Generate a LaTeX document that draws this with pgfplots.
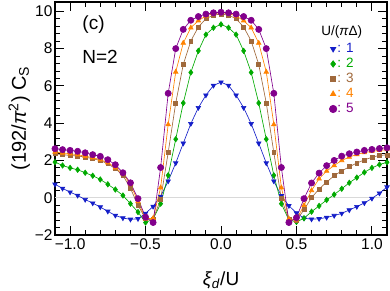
\documentclass[border=0pt]{standalone}
\usepackage{fontspec}
\setmainfont{Liberation Sans}
\usepackage{pgfplots}
\usepackage{pgfplotstable}
\pgfplotsset{compat=1.18}
\definecolor{cb}{RGB}{20,30,200}
\definecolor{cg}{RGB}{0,170,0}
\definecolor{cn}{RGB}{160,105,60}
\definecolor{co}{RGB}{255,130,0}
\definecolor{cp}{RGB}{130,0,140}
\pgfplotstableread{
x b g n o p
-1.10 0.72 1.91 2.36 2.45 2.63
-1.05 0.50 1.73 2.31 2.40 2.58
-1.00 0.30 1.60 2.27 2.36 2.54
-0.95 0.12 1.50 2.24 2.31 2.49
-0.90 -0.10 1.34 2.18 2.23 2.41
-0.85 -0.29 1.18 2.09 2.15 2.31
-0.80 -0.50 0.98 2.00 2.04 2.22
-0.75 -0.73 0.72 1.82 1.88 2.04
-0.70 -0.95 0.44 1.56 1.61 1.77
-0.65 -1.09 0.12 1.20 1.29 1.34
-0.60 -1.16 -0.32 0.50 0.72 0.80
-0.55 -1.13 -0.77 -0.40 -0.20 -0.05
-0.50 -0.84 -1.33 -1.13 -1.13 -1.04
-0.45 -0.47 -1.15 -1.16 -1.10 -1.33
-0.40 0.07 -0.32 -0.08 0.54 1.62
-0.35 0.89 1.20 2.42 3.93 5.60
-0.30 1.86 3.14 5.08 6.75 8.00
-0.25 2.92 5.08 7.15 8.30 9.03
-0.20 3.97 6.72 8.41 9.12 9.52
-0.15 4.83 7.88 9.16 9.50 9.72
-0.10 5.50 8.75 9.60 9.75 9.85
-0.05 6.02 9.12 9.80 9.88 9.92
0.00 6.20 9.30 9.85 9.92 9.95
0.05 6.02 9.12 9.80 9.88 9.92
0.10 5.50 8.75 9.60 9.75 9.85
0.15 4.83 7.88 9.16 9.50 9.72
0.20 3.97 6.72 8.41 9.12 9.52
0.25 2.92 5.08 7.15 8.30 9.03
0.30 1.86 3.14 5.08 6.75 8.00
0.35 0.89 1.20 2.42 3.93 5.60
0.40 0.10 -0.32 -0.05 0.54 1.62
0.45 -0.43 -1.20 -1.16 -1.13 -1.33
0.50 -0.82 -1.30 -1.22 -1.18 -1.07
0.55 -1.10 -1.10 -0.64 -0.41 -0.05
0.60 -1.15 -0.75 0.00 0.39 0.79
0.65 -1.13 -0.44 0.47 1.02 1.32
0.70 -1.06 -0.12 0.84 1.43 1.72
0.75 -0.96 0.17 1.18 1.73 2.00
0.80 -0.84 0.48 1.44 2.00 2.23
0.85 -0.66 0.80 1.66 2.18 2.36
0.90 -0.48 1.08 1.86 2.32 2.45
0.95 -0.28 1.36 2.03 2.42 2.54
1.00 -0.04 1.60 2.17 2.49 2.59
1.05 0.24 1.78 2.27 2.54 2.64
1.10 0.57 1.90 2.30 2.58 2.68
}\data
\begin{document}
\begin{tikzpicture}
\begin{axis}[
  at={(55bp,56bp)}, anchor=south west,
  width=332bp, height=233bp, scale only axis,
  xmin=-1.1, xmax=1.1, ymin=-2, ymax=10.5,
  xtick={-1,-0.5,0,0.5,1},
  xticklabels={−1.0,−0.5,0.0,0.5,1.0},
  ytick={-2,0,2,4,6,8,10},
  yticklabels={−2,0,2,4,6,8,10},
  minor x tick num=4, minor y tick num=4,
  tick align=inside,
  major tick length=9bp, minor tick length=5bp,
  every tick/.style={black, line width=0.9pt},
  axis line style={line width=1.3pt},
  tick label style={font=\fontsize{15.5bp}{18bp}\selectfont},
  yticklabel style={xshift=1bp},
  xlabel={\textit{ξ}\textsubscript{\textit{d}}/U},
  xlabel style={font=\fontsize{19bp}{22bp}\selectfont, at={(axis description cs:0.5,-0.2146)}, anchor=base},
  ylabel={(192/\textit{π}\textsuperscript{2}) C\textsubscript{S}},
  ylabel style={font=\fontsize{20bp}{23bp}\selectfont, at={(axis description cs:-0.088,0.5)}, anchor=base},
  legend style={at={(axis description cs:0.826,0.826)}, anchor=north west,
    draw=none, fill=none, inner sep=0pt, row sep=2.5bp,
    font=\fontsize{13.5bp}{16bp}\selectfont,
    nodes={inner sep=0.5bp, text height=9.5bp, text depth=2bp}},
  legend cell align=left,
  legend image code/.code={\draw[#1, scale=1.2] plot coordinates {(0bp,0bp)};},
  every axis plot/.append style={line width=0.65pt},
]
\addplot[gray!30, line width=0.5pt, forget plot] coordinates {(-1.1,0) (1.1,0)};
\addplot[cb, mark=triangle*, mark size=2.6pt, mark options={rotate=180, fill=cb}] table[x=x,y=b] {\data};
\addlegendentry[text=cb]{: 1}
\addplot[cg, mark=diamond*, mark size=2.7pt, mark options={fill=cg}] table[x=x,y=g] {\data};
\addlegendentry[text=cg]{: 2}
\addplot[cn, mark=square*, mark size=2.0pt, mark options={fill=cn}] table[x=x,y=n] {\data};
\addlegendentry[text=cn]{: 3}
\addplot[co, mark=triangle*, mark size=2.6pt, mark options={fill=co}] table[x=x,y=o] {\data};
\addlegendentry[text=co]{: 4}
\addplot[cp, mark=*, mark size=3.1pt, mark options={fill=cp}] table[x=x,y=p] {\data};
\addlegendentry[text=cp]{: 5}
\node[font=\fontsize{13.5bp}{16bp}\selectfont, anchor=base] at (axis description cs:0.864,0.858) {U/(\textit{π}Δ)};
\node[font=\fontsize{19bp}{22bp}\selectfont, anchor=base west] at (axis description cs:0.072,0.88) {(c)};
\node[font=\fontsize{19bp}{22bp}\selectfont, anchor=base west] at (axis description cs:0.072,0.738) {N=2};
\end{axis}
\pgfresetboundingbox
\path (0,0) rectangle (390bp,291bp);
\end{tikzpicture}
\end{document}
